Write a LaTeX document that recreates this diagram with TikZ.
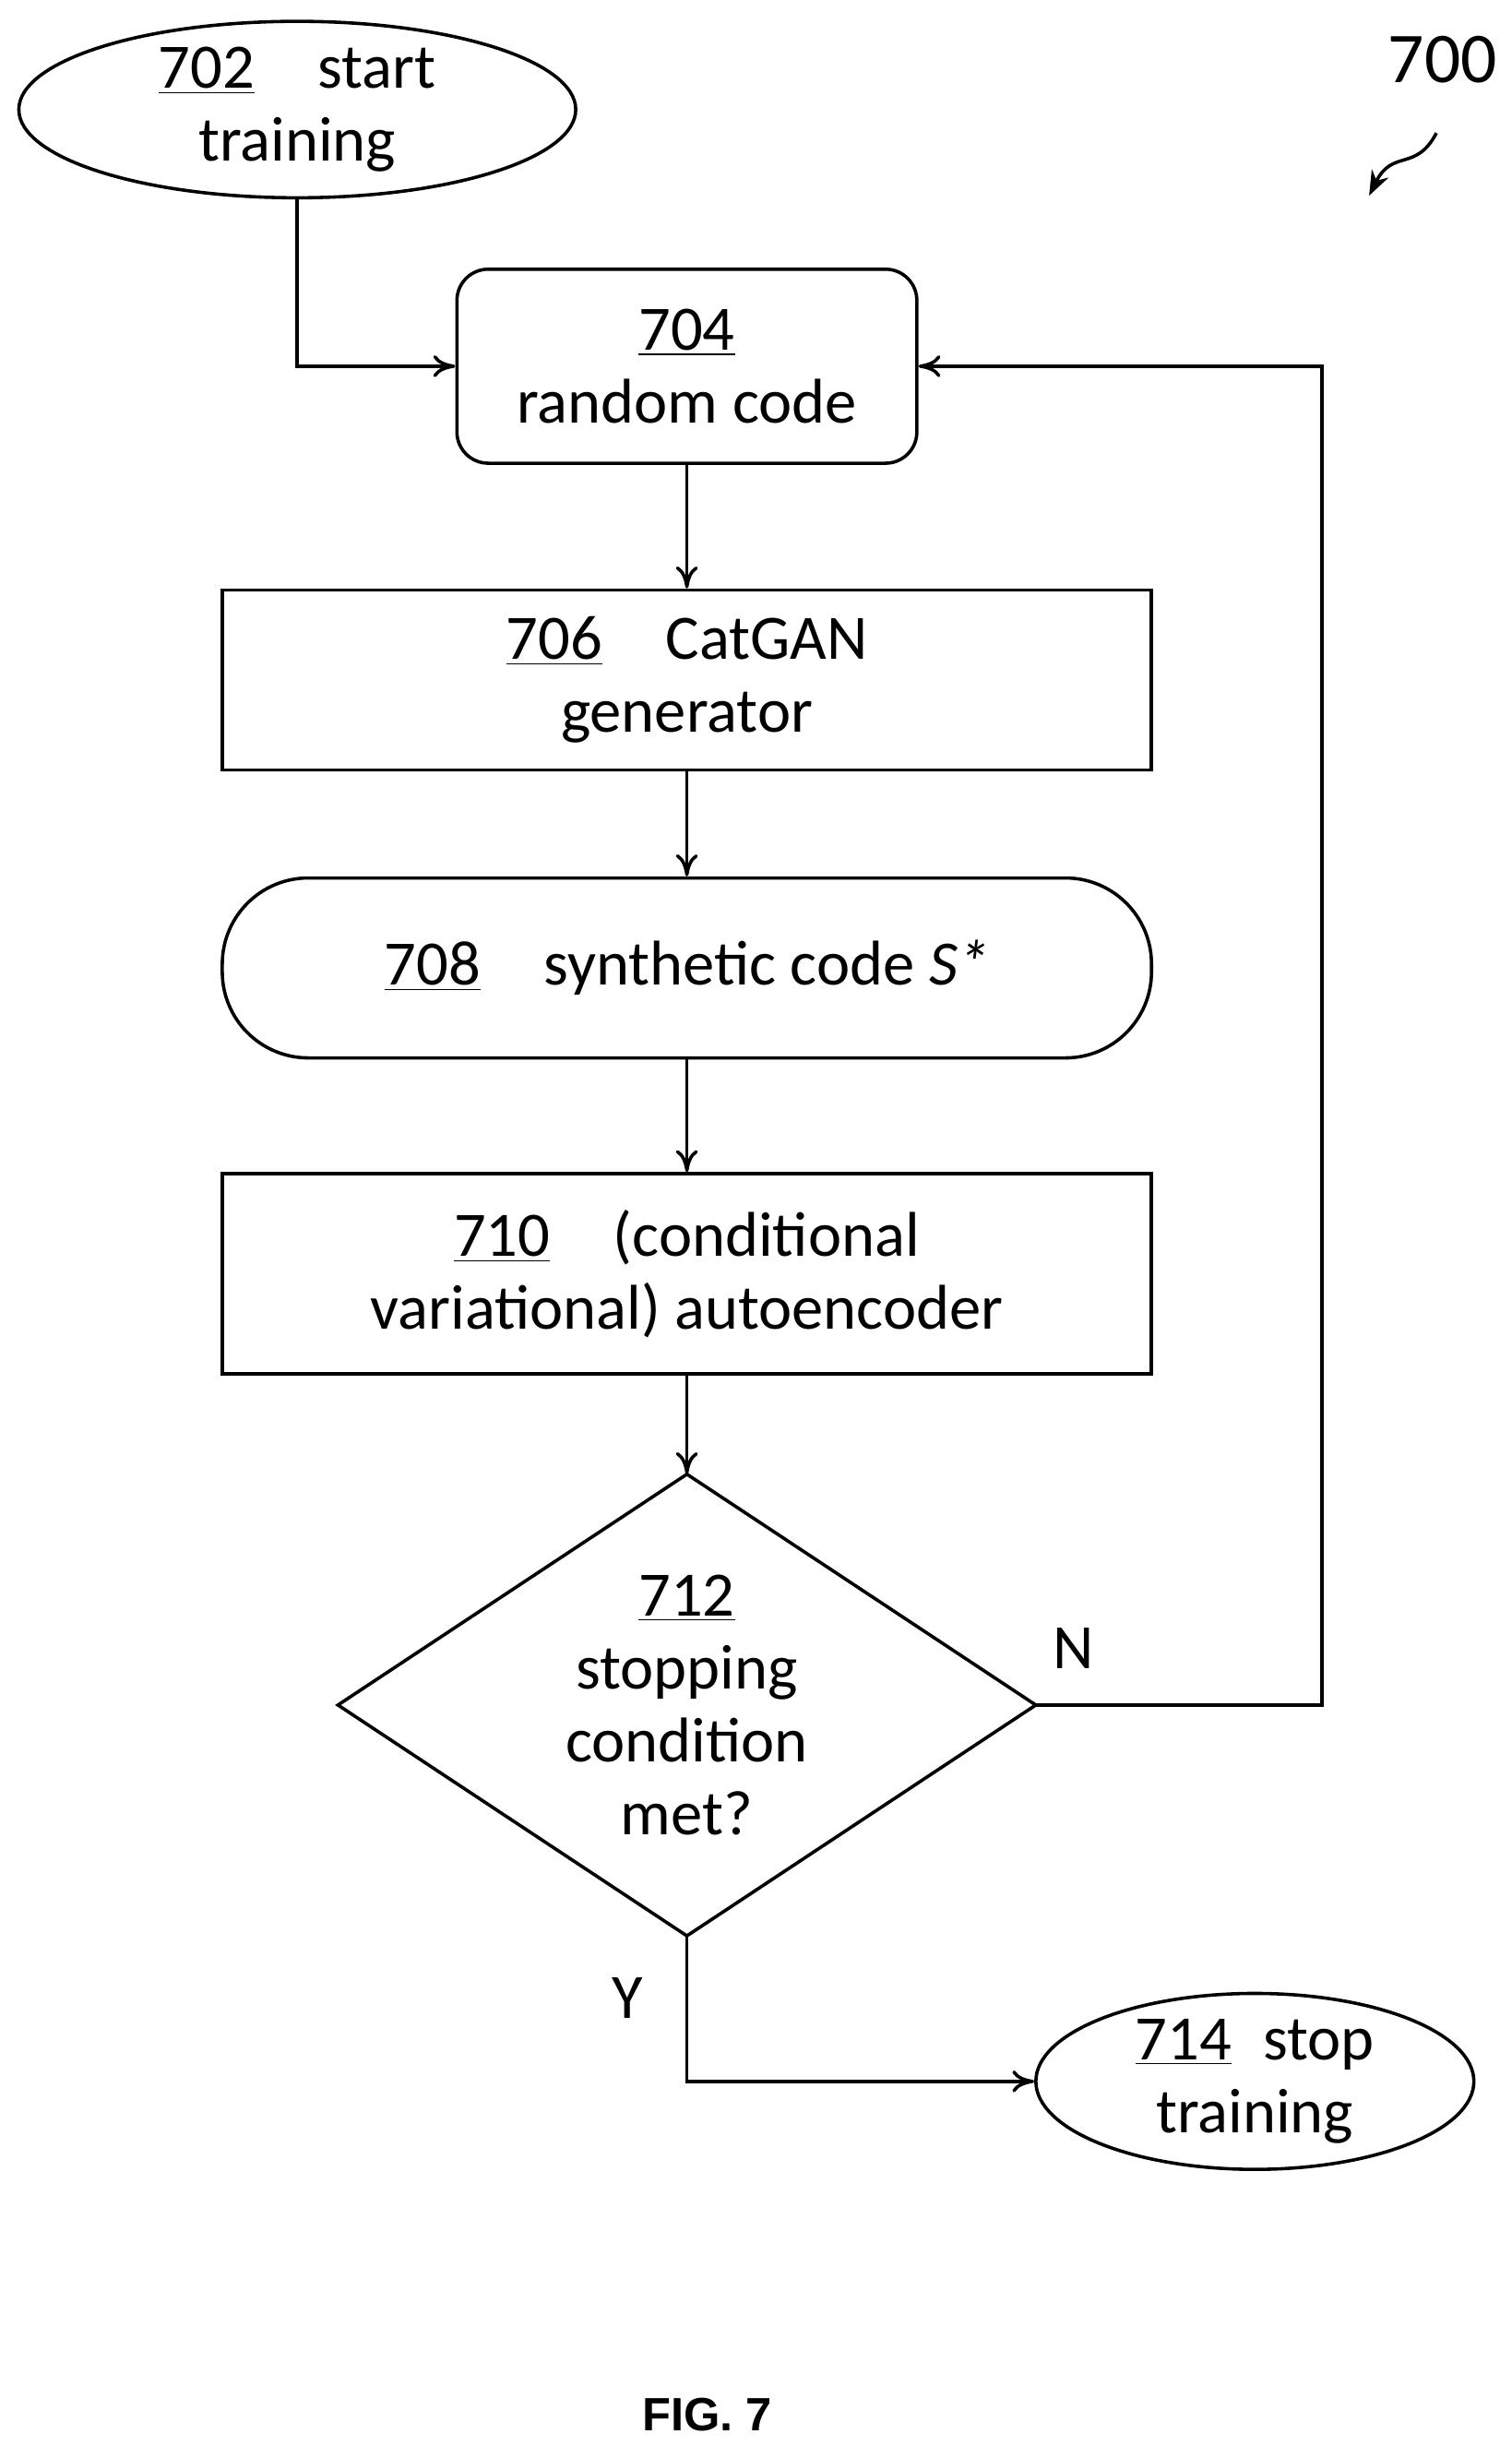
\documentclass[tikz,border=0pt]{standalone}
\usepackage{fontspec}
\setmainfont{Carlito}
\newfontfamily\arialf{Liberation Sans}
\usetikzlibrary{shapes.geometric,arrows.meta}
\begin{document}
\begin{tikzpicture}[x=0.02cm,y=-0.02cm,
  every node/.style={font=\fontsize{23}{26.5}\selectfont, align=center, line width=1.2pt},
  box/.style={draw, minimum width=11.88cm, inner sep=0pt},
  arr/.style={-{To[length=8pt,width=8pt]}, line width=1.2pt},
  ln/.style={line width=1.2pt}]
\useasboundingbox (0,0) rectangle (966,1563);
\node[draw, ellipse, minimum width=7.12cm, minimum height=2.08cm, inner sep=0pt] (a) at (190,70) {\underline{702}\quad start\\training};
\node[draw, rounded corners=0.4cm, minimum width=5.88cm, minimum height=2.48cm, inner sep=0pt] (b) at (439,234) {\underline{704}\\random code};
\node[box, minimum height=2.3cm] (c) at (439,434.5) {\underline{706}\quad CatGAN\\generator};
\node[box, rounded corners=1.1cm, minimum height=2.3cm] (d) at (439,618.5) {\underline{708}\quad synthetic code \textit{S*}};
\node[box, minimum height=2.56cm] (e) at (439,814) {\underline{710}\quad(conditional\\variational) autoencoder};
\coordinate (fN) at (439,942);
\coordinate (fE) at (662,1089.5);
\coordinate (fS) at (439,1237);
\coordinate (fW) at (216,1089.5);
\draw[ln, line join=miter] (fN) -- (fE) -- (fS) -- (fW) -- cycle;
\node (f) at (439,1089.5) {\underline{712}\\stopping\\condition\\met?};
\node[draw, ellipse, minimum width=5.6cm, minimum height=2.1cm, inner sep=0pt] (g) at (802,1330) {\underline{714}\enspace stop\\training};
\node[font=\fontsize{26}{30}\selectfont] (l700) at (922,38) {700};
\node (lN) at (686,1053) {N};
\node (lY) at (401,1277) {Y};
\node[font=\arialf\bfseries\fontsize{17}{20}\selectfont] (fig) at (452,1543) {FIG. 7};
\coordinate (s1) at (918,85);
\coordinate (s2) at (875,125);
\draw[arr] (a.south) |- (b.west);
\draw[arr] (b) -- (c);
\draw[arr] (c) -- (d);
\draw[arr] (d) -- (e);
\draw[arr] (e) -- (fN);
\draw[arr] (fE) -- (845,1089.5) |- (b.east);
\draw[arr] (fS) |- (g.west);
\draw[-{Stealth[length=9pt]}, line width=1.2pt] (s1) .. controls (905,110) and (890,95) .. (s2);
\end{tikzpicture}
\end{document}
